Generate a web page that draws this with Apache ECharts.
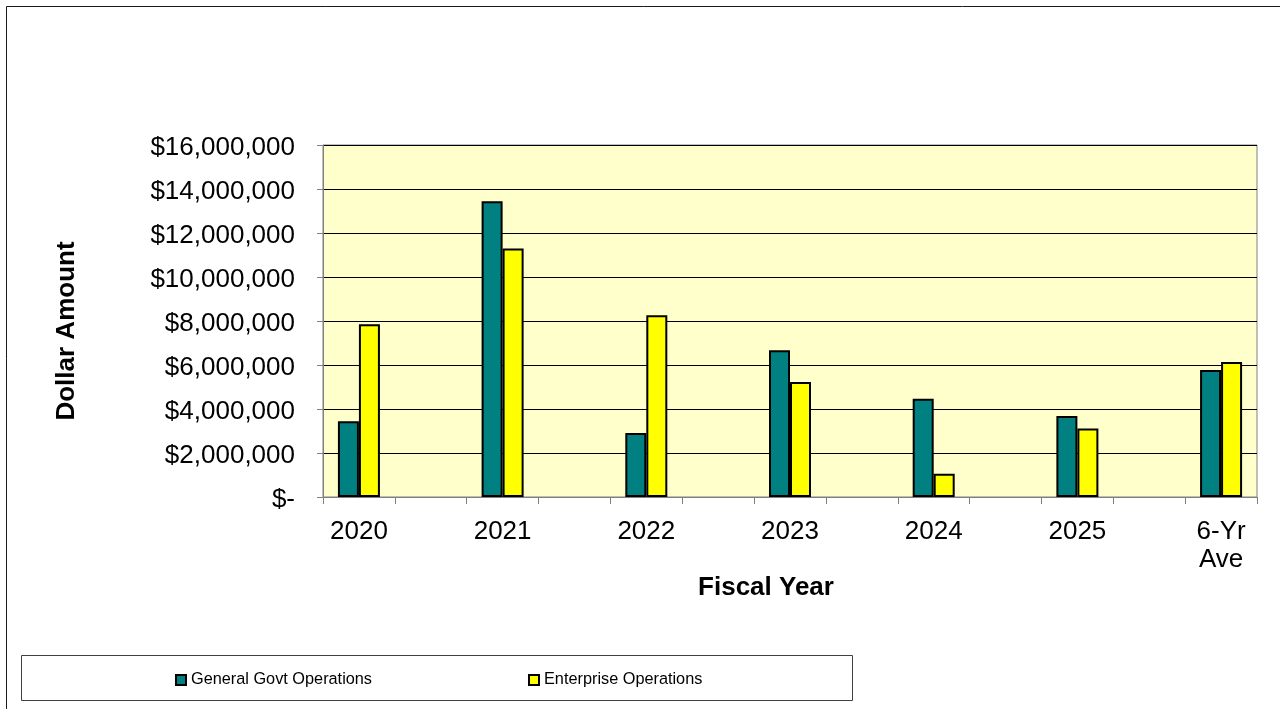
<!DOCTYPE html>
<html>
<head>
<meta charset="utf-8">
<style>
  html, body { margin: 0; padding: 0; background: #ffffff; }
  #chart { width: 1280px; height: 709px; }
</style>
<script src="https://cdn.jsdelivr.net/npm/echarts@6/dist/echarts.min.js"></script>
</head>
<body>
<div id="chart"></div>
<script>
// Categories (blank slots between years, as in the original Excel chart)
const categories = ['2020', '', '2021', '', '2022', '', '2023', '', '2024', '', '2025', '', '6-Yr\nAve'];
const seriesNames = ['General Govt Operations', 'Enterprise Operations'];
const generalGovt = [3440000, null, 13440000, null, 2910000, null, 6670000, null, 4470000, null, 3680000, null, 5770000];
const enterprise  = [7850000, null, 11300000, null, 8260000, null, 5230000, null, 1060000, null, 3110000, null, 6140000];
const yTicks = { min: 0, max: 16000000, interval: 2000000 };
const xTitle = 'Fiscal Year';
const yTitle = 'Dollar Amount';

const FONT = 'Liberation Sans, Arial, sans-serif';
const chart = echarts.init(document.getElementById('chart'), null, { renderer: 'canvas' });

function fmt(v) {
  const s = v === 0 ? '$-' : '$' + v.toLocaleString('en-US');
  return '{v|' + s + '}';
}

const option = {
  animation: false,
  backgroundColor: '#ffffff',
  textStyle: { fontFamily: FONT },
  grid: {
    left: 323, right: 23, top: 145, bottom: 212,
    show: true, backgroundColor: '#FFFFCC', borderColor: '#808080', borderWidth: 1
  },
  legend: {
    left: 175, top: 672, padding: 0,
    itemWidth: 10, itemHeight: 10, itemGap: 156,
    icon: 'rect',
    itemStyle: { borderColor: '#000', borderWidth: 2 },
    textStyle: { fontSize: 16.3, color: '#000', fontFamily: FONT },
    data: seriesNames
  },
  xAxis: {
    type: 'category',
    data: categories,
    axisLine: { lineStyle: { color: '#808080', width: 1 } },
    axisTick: { show: true, length: 7, lineStyle: { color: '#808080' } },
    axisLabel: { interval: 0, fontSize: 26, color: '#000', fontFamily: FONT, margin: 21, lineHeight: 28 },
    splitLine: { show: false }
  },
  yAxis: {
    type: 'value',
    min: yTicks.min, max: yTicks.max, interval: yTicks.interval,
    axisLine: { show: true, lineStyle: { color: '#808080', width: 1 } },
    axisTick: { show: true, length: 6, lineStyle: { color: '#808080' } },
    axisLabel: {
      formatter: fmt, color: '#000', fontFamily: FONT, margin: 28,
      rich: { v: { fontSize: 26, color: '#000', fontFamily: FONT, padding: [5, 0, 0, 0] } }
    },
    splitLine: { show: true, lineStyle: { color: '#000', width: 1 } }
  },
  series: [
    {
      name: seriesNames[0], type: 'bar', data: generalGovt,
      barWidth: 21, barGap: '0%',
      itemStyle: { color: '#008080', borderColor: '#000', borderWidth: 2 }
    },
    {
      name: seriesNames[1], type: 'bar', data: enterprise,
      barWidth: 21, barGap: '0%',
      itemStyle: { color: '#FFFF00', borderColor: '#000', borderWidth: 2 }
    }
  ],
  graphic: [
    {
      type: 'rect', silent: true, z: -1,
      shape: { x: 6.5, y: 6.5, width: 1300, height: 720 },
      style: { fill: null, stroke: '#1a1a1a', lineWidth: 1 }
    },
    {
      type: 'rect', silent: true, z: -1,
      shape: { x: 21.5, y: 655.5, width: 831, height: 45 },
      style: { fill: '#ffffff', stroke: '#404040', lineWidth: 1 }
    },
    {
      type: 'text', silent: true,
      x: 766, y: 588,
      style: { text: xTitle, font: 'bold 26px ' + FONT, fill: '#000', align: 'center', verticalAlign: 'middle' }
    },
    {
      type: 'text', silent: true,
      x: 67, y: 331, rotation: Math.PI / 2,
      style: { text: yTitle, font: 'bold 26px ' + FONT, fill: '#000', align: 'center', verticalAlign: 'middle' }
    }
  ]
};
chart.setOption(option);
</script>
</body>
</html>
